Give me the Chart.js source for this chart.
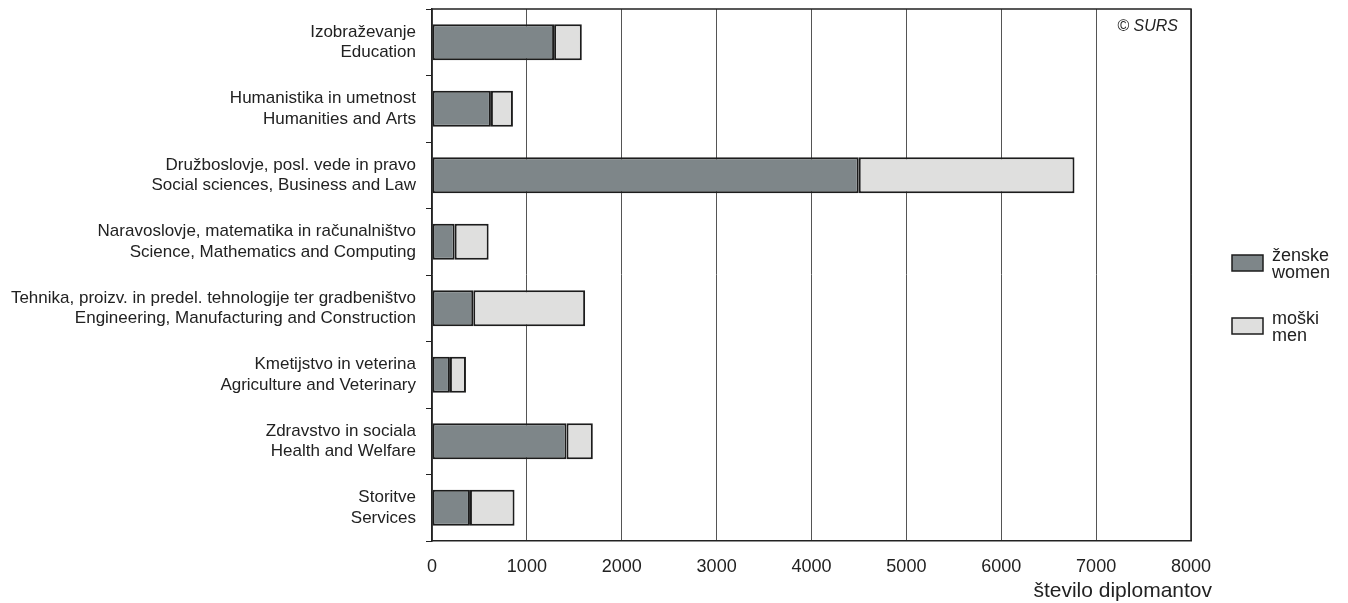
<!DOCTYPE html>
<html>
<head>
<meta charset="utf-8">
<script src="https://cdn.jsdelivr.net/npm/chart.js@4"></script>
<style>
html,body{margin:0;padding:0;background:#fff;}
#wrap{width:1348px;height:603px;position:relative;}
</style>
</head>
<body>
<div id="wrap"><canvas id="c" width="1348" height="603"></canvas></div>
<script>
const categories = [
  ["Izobraževanje", "Education"],
  ["Humanistika in umetnost", "Humanities and Arts"],
  ["Družboslovje, posl. vede in pravo", "Social sciences, Business and Law"],
  ["Naravoslovje, matematika in računalništvo", "Science, Mathematics and Computing"],
  ["Tehnika, proizv. in predel. tehnologije ter gradbeništvo", "Engineering, Manufacturing and Construction"],
  ["Kmetijstvo in veterina", "Agriculture and Veterinary"],
  ["Zdravstvo in sociala", "Health and Welfare"],
  ["Storitve", "Services"]
];
const women = [1287, 621, 4498, 239, 435, 189, 1418, 400];
const men   = [292, 232, 2274, 358, 1179, 169, 277, 470];
const xTicks = [0, 1000, 2000, 3000, 4000, 5000, 6000, 7000, 8000];
const seriesNames = [["ženske", "women"], ["moški", "men"]];
const axisTitle = "število diplomantov";
const copyright = "© SURS";

const colWomen = "#7e8689";
const colMen = "#dfdfde";
const colBorder = "#1c1c1c";
const FONT = "'Liberation Sans', Arial, sans-serif";

const extras = {
  id: 'extras',
  afterDraw(chart) {
    const ctx = chart.ctx;
    const a = chart.chartArea;
    ctx.save();
    // top/right border
    ctx.strokeStyle = "#222";
    ctx.lineWidth = 1.5;
    ctx.beginPath();
    ctx.moveTo(a.left, a.top);
    ctx.lineTo(a.right, a.top);
    ctx.lineTo(a.right, a.bottom);
    ctx.stroke();
    // copyright
    ctx.fillStyle = "#222";
    ctx.font = "italic 16px " + FONT;
    ctx.textAlign = "right";
    ctx.textBaseline = "middle";
    ctx.fillText(copyright, a.right - 13, a.top + 18);
    // axis title
    ctx.font = "21px " + FONT;
    ctx.textBaseline = "alphabetic";
    ctx.fillText(axisTitle, a.right + 21, 597);
    // legend
    const items = [
      {fill: colWomen, y: 255, lines: seriesNames[0]},
      {fill: colMen, y: 318, lines: seriesNames[1]}
    ];
    ctx.font = "18px " + FONT;
    ctx.textAlign = "left";
    ctx.textBaseline = "middle";
    items.forEach(it => {
      ctx.fillStyle = it.fill;
      ctx.fillRect(1232, it.y, 31, 16);
      ctx.strokeStyle = colBorder;
      ctx.lineWidth = 1.5;
      ctx.strokeRect(1232, it.y, 31, 16);
      ctx.fillStyle = "#222";
      ctx.fillText(it.lines[0], 1272, it.y + 1);
      ctx.fillText(it.lines[1], 1272, it.y + 18);
    });
    ctx.restore();
  }
};

new Chart(document.getElementById('c'), {
  type: 'bar',
  data: {
    labels: categories,
    datasets: [
      {label: seriesNames[0].join(' / '), data: women, backgroundColor: colWomen, borderColor: colBorder, borderWidth: 2, borderSkipped: false},
      {label: seriesNames[1].join(' / '), data: men, backgroundColor: colMen, borderColor: colBorder, borderWidth: 2, borderSkipped: false}
    ]
  },
  options: {
    indexAxis: 'y',
    responsive: false,
    animation: false,
    devicePixelRatio: 1,
    layout: {padding: {top: 9, right: 157, left: 0, bottom: 0}},
    datasets: {bar: {categoryPercentage: 0.54, barPercentage: 1}},
    plugins: {legend: {display: false}, tooltip: {enabled: false}},
    scales: {
      x: {
        stacked: true,
        min: 0, max: 8000,
        afterBuildTicks(s) { s.ticks = xTicks.map(v => ({value: v})); },
        afterFit(s) { s.height = 62; s.paddingLeft = 0; s.paddingRight = 0; },
        grid: {color: "#555", lineWidth: 1, drawTicks: false},
        border: {color: "#222", width: 1.5},
        ticks: {color: "#222", font: {family: FONT, size: 18}, padding: 15, maxRotation: 0, callback: v => String(v)},
        title: {display: false}
      },
      y: {
        stacked: true,
        afterFit(s) { s.width = 432; s.paddingTop = 0; s.paddingBottom = 0; },
        grid: {drawOnChartArea: false, drawTicks: true, tickLength: 6, color: "#222", offset: true},
        border: {color: "#222", width: 1.5},
        ticks: {color: "#222", font: {family: FONT, size: 17, lineHeight: 1.22}, padding: 10, autoSkip: false}
      }
    }
  },
  plugins: [extras]
});
</script>
</body>
</html>
